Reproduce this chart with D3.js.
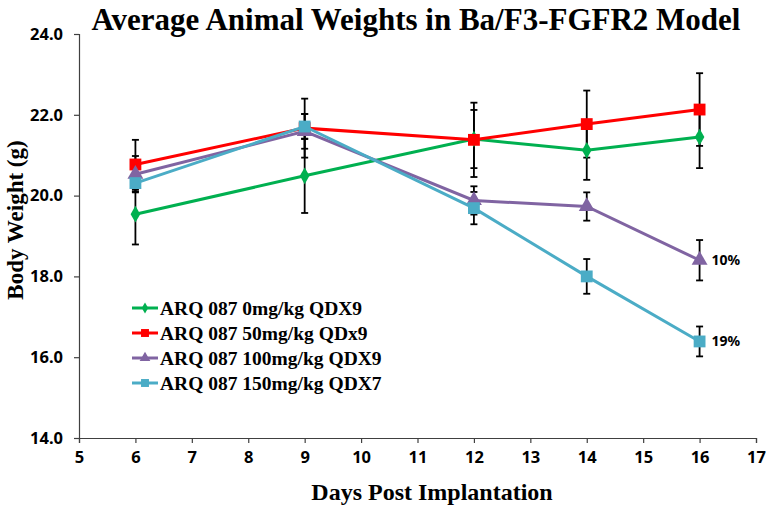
<!DOCTYPE html>
<html>
<head>
<meta charset="utf-8">
<script src="https://cdn.jsdelivr.net/npm/d3@7"></script>
<style>
  body { margin: 0; background: #fff; }
  .tick text { font-family: "Noto Sans", sans-serif; font-weight: bold; font-size: 16.5px; fill: #000; }
  .serif { font-family: "Liberation Serif", "Times New Roman", serif; font-weight: bold; }
</style>
</head>
<body>
<div id="chart"></div>
<script>
var days = [6, 9, 12, 14, 16];

var seriesNames = ["ARQ 087 0mg/kg QDX9", "ARQ 087 50mg/kg QDx9", "ARQ 087 100mg/kg QDX9", "ARQ 087 150mg/kg QDX7"];
var seriesColors = ["#00b050", "#ff0000", "#8064a2", "#4bacc6"];
var seriesMarkers = ["diamond", "square", "triangle", "square"];

var weights0 = [19.54, 20.49, 21.40, 21.12, 21.45];
var weights50 = [20.77, 21.67, 21.38, 21.77, 22.13];
var weights100 = [20.53, 21.59, 19.88, 19.73, 18.40];
var weights150 = [20.31, 21.71, 19.69, 18.00, 16.39];

var err0 = [0.75, 0.92, 0.72, 0.73, 0.77];
var err50 = [0.61, 0.73, 0.92, 0.83, 0.90];
var err100 = [0.45, 0.43, 0.35, 0.35, 0.50];
var err150 = [0.20, 0.31, 0.40, 0.43, 0.37];

var xTicks = [5, 6, 7, 8, 9, 10, 11, 12, 13, 14, 15, 16, 17];
var yTicks = [14, 16, 18, 20, 22, 24];

// percent loss labels at the last day
var endLabels = [null, null, "10%", "19%"];

var allWeights = [weights0, weights50, weights100, weights150];
var allErrors = [err0, err50, err100, err150];

var width = 767, height = 507;
var margin = {left: 79, right: 11, top: 34, bottom: 69};

var svg = d3.select("#chart").append("svg").attr("width", width).attr("height", height);

var x = d3.scaleLinear().domain([5, 17]).range([margin.left, width - margin.right]);
var y = d3.scaleLinear().domain([14, 24]).range([height - margin.bottom, margin.top]);

var xAxis = svg.append("g")
    .attr("transform", "translate(0," + y(14) + ")")
    .call(d3.axisBottom(x).tickValues(xTicks).tickFormat(d3.format("d")).tickSize(5).tickPadding(8));
var yAxis = svg.append("g")
    .attr("transform", "translate(" + x(5) + ",0)")
    .call(d3.axisLeft(y).tickValues(yTicks).tickFormat(d3.format(".1f")).tickSize(5).tickPadding(11));
[xAxis, yAxis].forEach(function(ax) {
    ax.select(".domain").attr("stroke", "#404040").attr("stroke-width", 1.2);
    ax.selectAll(".tick line").attr("stroke", "#404040").attr("stroke-width", 1.2);
});

var series = seriesNames.map(function(name, i) {
    return {
        name: name, color: seriesColors[i], marker: seriesMarkers[i], label: endLabels[i],
        points: days.map(function(d, j) { return {day: d, w: allWeights[i][j], e: allErrors[i][j]}; })
    };
});

// error bars
var bars = svg.append("g").attr("stroke", "#000").attr("stroke-width", 1.8);
series.forEach(function(s) {
    s.points.forEach(function(p) {
        bars.append("line").attr("x1", x(p.day)).attr("x2", x(p.day)).attr("y1", y(p.w - p.e)).attr("y2", y(p.w + p.e));
        [p.w - p.e, p.w + p.e].forEach(function(v) {
            bars.append("line").attr("x1", x(p.day) - 3.5).attr("x2", x(p.day) + 3.5).attr("y1", y(v)).attr("y2", y(v));
        });
    });
});

var line = d3.line().x(function(d) { return x(d.day); }).y(function(d) { return y(d.w); });

var symbolFor = function(m, size) {
    var type = m == "diamond" ? d3.symbolDiamond : (m == "triangle" ? d3.symbolTriangle : d3.symbolSquare);
    return d3.symbol().type(type).size(size)();
};
var sizes = {diamond: 80, square: 140, triangle: 110};

series.forEach(function(s) {
    svg.append("path").datum(s.points)
        .attr("fill", "none").attr("stroke", s.color).attr("stroke-width", 3)
        .attr("d", line);
    svg.selectAll(null).data(s.points).enter().append("path")
        .attr("transform", function(d) { return "translate(" + x(d.day) + "," + y(d.w) + ")"; })
        .attr("d", symbolFor(s.marker, sizes[s.marker]))
        .attr("fill", s.color);
    if (s.label) {
        var last = s.points[s.points.length - 1];
        svg.append("text")
            .attr("x", x(last.day) + 12).attr("y", y(last.w)).attr("dy", "0.35em")
            .style("font-family", "'Noto Sans', sans-serif").style("font-weight", "bold").style("font-size", "14px")
            .text(s.label);
    }
});

// legend
var legend = svg.append("g").attr("transform", "translate(132,308)");
series.forEach(function(s, i) {
    var g = legend.append("g").attr("transform", "translate(0," + (i * 25) + ")");
    g.append("line").attr("x1", 0).attr("x2", 26).attr("stroke", s.color).attr("stroke-width", 3);
    g.append("path").attr("transform", "translate(13,0)").attr("d", symbolFor(s.marker, sizes[s.marker] * 0.45)).attr("fill", s.color);
    g.append("text").attr("class", "serif").attr("x", 28).attr("dy", "0.35em").style("font-size", "19.5px").text(s.name);
});

// titles
svg.append("text").attr("class", "serif")
    .attr("x", 416).attr("y", 30).attr("text-anchor", "middle").style("font-size", "31px")
    .text("Average Animal Weights in Ba/F3-FGFR2 Model");
svg.append("text").attr("class", "serif")
    .attr("transform", "translate(23," + 220 + ") rotate(-90)").attr("text-anchor", "middle").style("font-size", "23px")
    .text("Body Weight (g)");
svg.append("text").attr("class", "serif")
    .attr("x", 432).attr("y", 500).attr("text-anchor", "middle").style("font-size", "24px")
    .text("Days Post Implantation");
</script>
</body>
</html>
